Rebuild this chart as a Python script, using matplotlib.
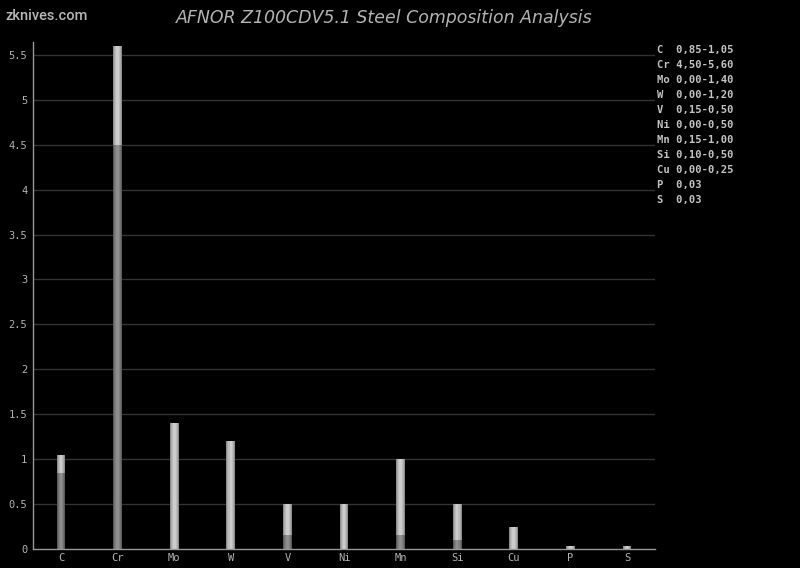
import matplotlib
matplotlib.use("Agg")
import matplotlib.pyplot as plt
import numpy as np

elements = ["C", "Cr", "Mo", "W", "V", "Ni", "Mn", "Si", "Cu", "P", "S"]
min_vals = [0.85, 4.50, 0.00, 0.00, 0.15, 0.00, 0.15, 0.10, 0.00, 0.00, 0.00]
max_vals = [1.05, 5.60, 1.40, 1.20, 0.50, 0.50, 1.00, 0.50, 0.25, 0.03, 0.03]
range_labels = ["0,85-1,05", "4,50-5,60", "0,00-1,40", "0,00-1,20", "0,15-0,50",
                "0,00-0,50", "0,15-1,00", "0,10-0,50", "0,00-0,25", "0,03", "0,03"]
yticks = [0, 0.5, 1, 1.5, 2, 2.5, 3, 3.5, 4, 4.5, 5, 5.5]
ytick_labels = ["0", "0.5", "1", "1.5", "2", "2.5", "3", "3.5", "4", "4.5", "5", "5.5"]

BG = "#000000"
fig = plt.figure(figsize=(8, 5.68), dpi=100, facecolor=BG)
ax = fig.add_axes([0.041, 0.0335, 0.778, 0.892], facecolor=BG)

x = np.arange(len(elements))
mins = np.array(min_vals)
maxs = np.array(max_vals)
diff = maxs - mins

# grid
for yv in yticks[1:]:
    ax.axhline(yv, color="#333333", lw=1.0, zorder=0)

# bars with a simple gradient look: layered bars of decreasing width
layers = [(0.155, "#5c5c5c", "#8e8e8e"),
          (0.12, "#707070", "#a8a8a8"),
          (0.085, "#808080", "#bcbcbc"),
          (0.045, "#8e8e8e", "#cccccc")]
for w, c_low, c_high in layers:
    ax.bar(x, mins, width=w, color=c_low, edgecolor="none", zorder=2)
    ax.bar(x, diff, bottom=mins, width=w, color=c_high, edgecolor="none", zorder=2)

ax.set_xlim(-0.5, len(elements) - 0.5)
ax.set_ylim(0, 5.64)
ax.set_yticks(yticks)
ax.set_yticklabels(ytick_labels)
ax.set_xticks(x)
ax.set_xticklabels(elements)

mono = "DejaVu Sans Mono"
ax.tick_params(axis="both", colors="#aaaaaa", labelsize=7.5, length=0, pad=4)
for lab in ax.get_xticklabels() + ax.get_yticklabels():
    lab.set_family(mono)
    lab.set_color("#b4b4b4")
ax.tick_params(axis="x", pad=3)

for side in ["top", "right"]:
    ax.spines[side].set_visible(False)
for side in ["left", "bottom"]:
    ax.spines[side].set_color("#999999")
    ax.spines[side].set_linewidth(1.0)

# right-hand composition list
for i, (el, lab) in enumerate(zip(elements, range_labels)):
    fig.text(0.821, 1 - (50 + 15 * i) / 568, f"{el:<2} {lab}", family=mono,
             fontsize=7.6, color="#c4c4c4", va="center", ha="left", weight="semibold")

fig.text(0.48, 1 - 18 / 568, "AFNOR Z100CDV5.1 Steel Composition Analysis",
         ha="center", va="center", fontsize=12.5, style="italic", color="#b4b4b4")
fig.text(0.007, 1 - 16 / 568, "zknives.com", ha="left", va="center",
         fontsize=10.5, color="#b8b8b8", family="Roboto", weight="medium")

fig.savefig("out.png", dpi=100, facecolor=BG)
